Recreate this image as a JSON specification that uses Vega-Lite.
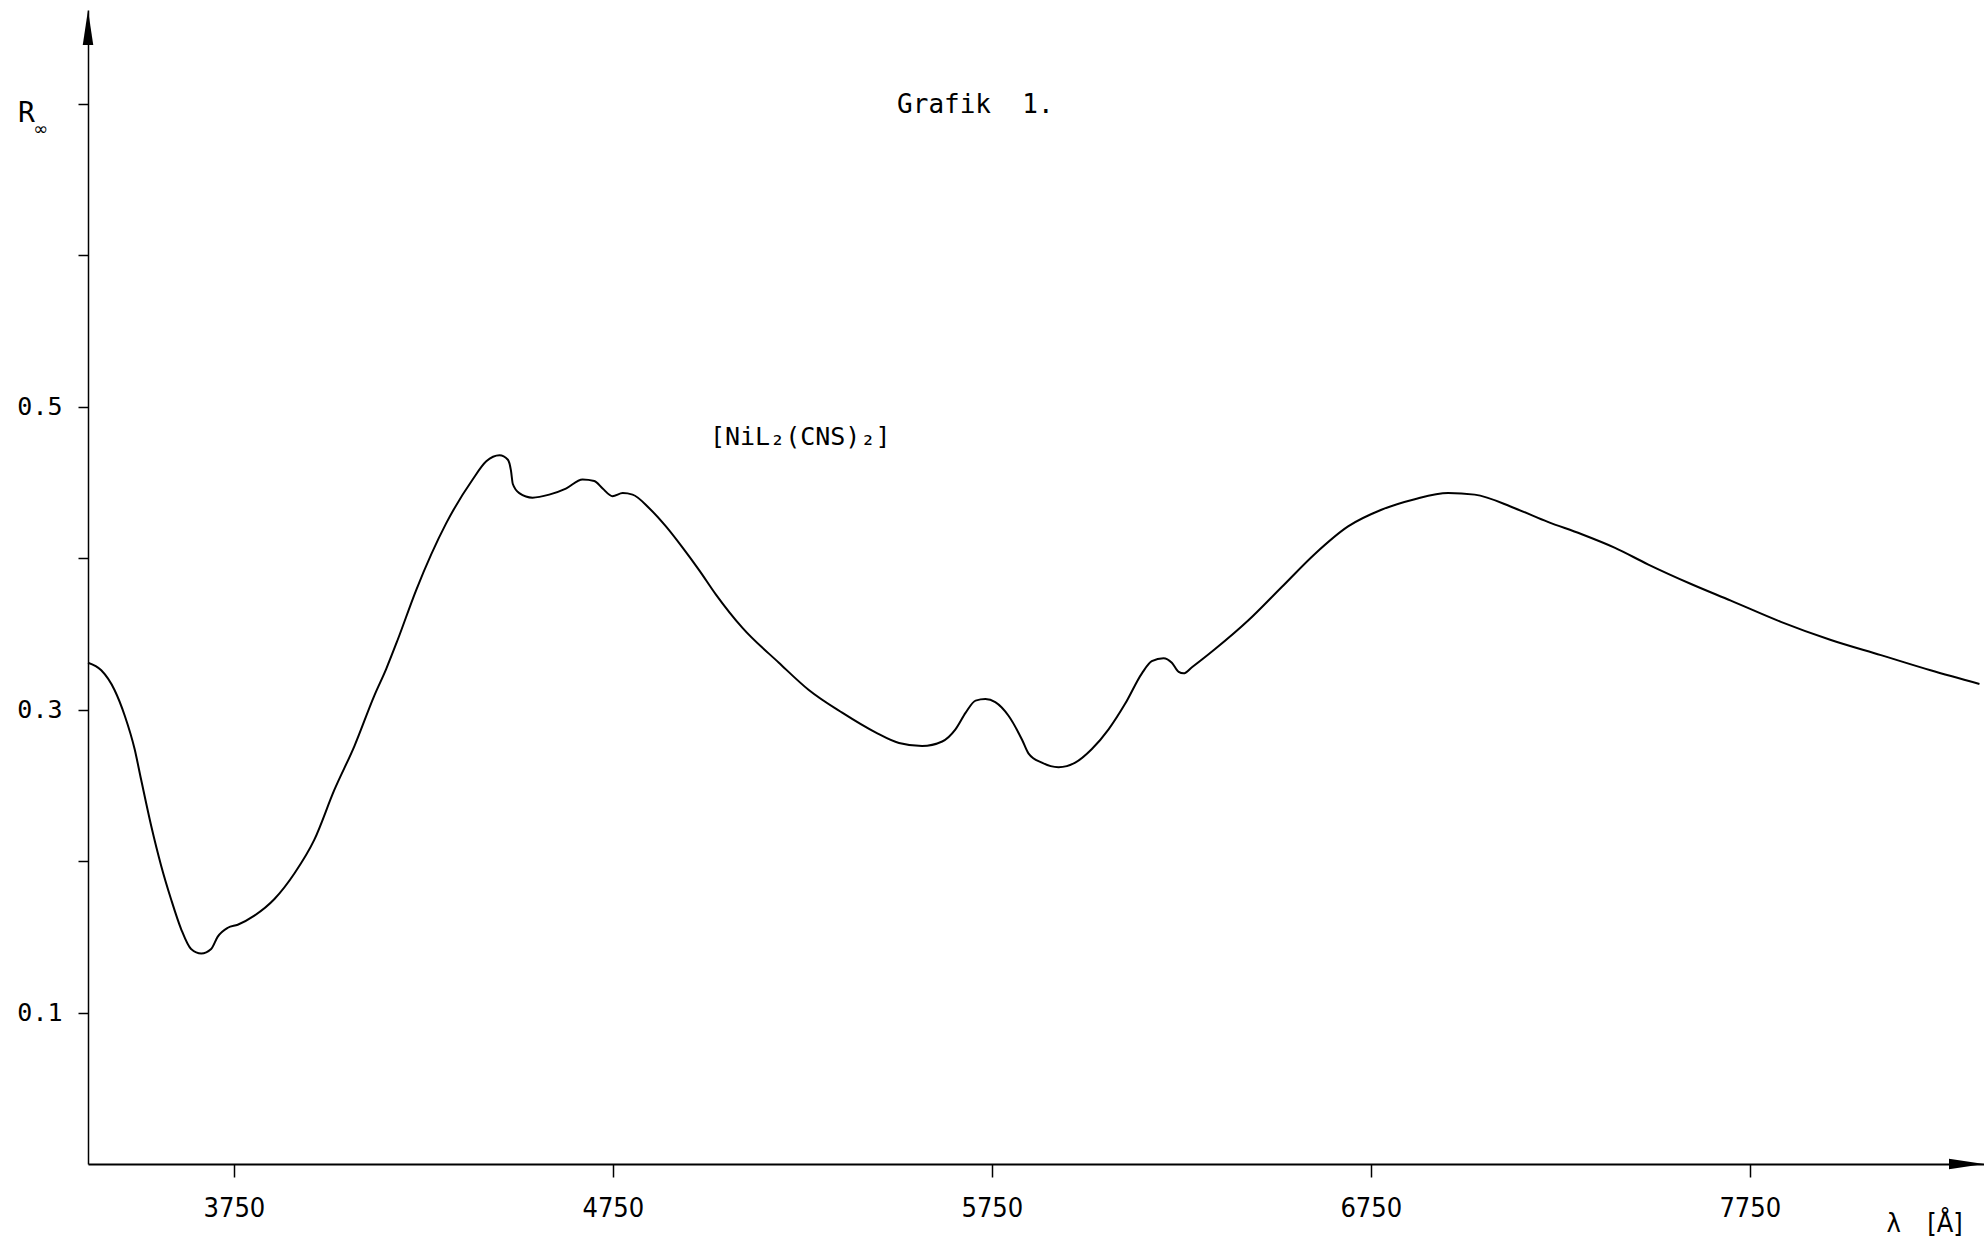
{
  "$schema": "https://vega.github.io/schema/vega-lite/v6.json",
  "width": 1896,
  "height": 1154,
  "autosize": {"type": "none"},
  "padding": {"left": 88, "top": 10, "right": 0, "bottom": 77},
  "background": "white",
  "config": {"view": {"stroke": null}},
  "layer": [
    {
      "data": {"values": [
        {"wavelength": 3365, "R": 0.331}, {"wavelength": 3400, "R": 0.326}, {"wavelength": 3435, "R": 0.313},
        {"wavelength": 3462, "R": 0.296}, {"wavelength": 3488, "R": 0.274}, {"wavelength": 3505, "R": 0.254},
        {"wavelength": 3532, "R": 0.223}, {"wavelength": 3558, "R": 0.197}, {"wavelength": 3584, "R": 0.175},
        {"wavelength": 3611, "R": 0.155}, {"wavelength": 3637, "R": 0.142}, {"wavelength": 3664, "R": 0.139},
        {"wavelength": 3690, "R": 0.142}, {"wavelength": 3707, "R": 0.150}, {"wavelength": 3734, "R": 0.156},
        {"wavelength": 3760, "R": 0.158}, {"wavelength": 3804, "R": 0.164}, {"wavelength": 3857, "R": 0.175},
        {"wavelength": 3910, "R": 0.192}, {"wavelength": 3962, "R": 0.214}, {"wavelength": 4015, "R": 0.247},
        {"wavelength": 4068, "R": 0.276}, {"wavelength": 4120, "R": 0.309}, {"wavelength": 4152, "R": 0.327},
        {"wavelength": 4182, "R": 0.346}, {"wavelength": 4231, "R": 0.379}, {"wavelength": 4310, "R": 0.423},
        {"wavelength": 4380, "R": 0.452}, {"wavelength": 4416, "R": 0.464}, {"wavelength": 4451, "R": 0.468},
        {"wavelength": 4473, "R": 0.465}, {"wavelength": 4481, "R": 0.458}, {"wavelength": 4486, "R": 0.449},
        {"wavelength": 4503, "R": 0.443}, {"wavelength": 4538, "R": 0.440}, {"wavelength": 4582, "R": 0.442},
        {"wavelength": 4626, "R": 0.446}, {"wavelength": 4670, "R": 0.452}, {"wavelength": 4701, "R": 0.451},
        {"wavelength": 4723, "R": 0.446}, {"wavelength": 4749, "R": 0.441}, {"wavelength": 4776, "R": 0.443},
        {"wavelength": 4802, "R": 0.442}, {"wavelength": 4846, "R": 0.433}, {"wavelength": 4890, "R": 0.421},
        {"wavelength": 4934, "R": 0.407}, {"wavelength": 4978, "R": 0.392}, {"wavelength": 5022, "R": 0.376},
        {"wavelength": 5092, "R": 0.354}, {"wavelength": 5188, "R": 0.331}, {"wavelength": 5267, "R": 0.313},
        {"wavelength": 5355, "R": 0.298}, {"wavelength": 5443, "R": 0.285}, {"wavelength": 5505, "R": 0.278},
        {"wavelength": 5566, "R": 0.276}, {"wavelength": 5619, "R": 0.279}, {"wavelength": 5654, "R": 0.287},
        {"wavelength": 5681, "R": 0.298}, {"wavelength": 5707, "R": 0.306}, {"wavelength": 5733, "R": 0.307},
        {"wavelength": 5759, "R": 0.305}, {"wavelength": 5794, "R": 0.296}, {"wavelength": 5830, "R": 0.280},
        {"wavelength": 5847, "R": 0.271}, {"wavelength": 5882, "R": 0.265}, {"wavelength": 5926, "R": 0.262},
        {"wavelength": 5970, "R": 0.265}, {"wavelength": 6014, "R": 0.274}, {"wavelength": 6058, "R": 0.287},
        {"wavelength": 6102, "R": 0.304}, {"wavelength": 6146, "R": 0.324}, {"wavelength": 6172, "R": 0.332},
        {"wavelength": 6203, "R": 0.334}, {"wavelength": 6225, "R": 0.331}, {"wavelength": 6243, "R": 0.325},
        {"wavelength": 6256, "R": 0.324}, {"wavelength": 6278, "R": 0.328}, {"wavelength": 6339, "R": 0.340},
        {"wavelength": 6427, "R": 0.359}, {"wavelength": 6515, "R": 0.381}, {"wavelength": 6603, "R": 0.403},
        {"wavelength": 6690, "R": 0.421}, {"wavelength": 6778, "R": 0.432}, {"wavelength": 6866, "R": 0.439},
        {"wavelength": 6954, "R": 0.443}, {"wavelength": 7024, "R": 0.442}, {"wavelength": 7130, "R": 0.433},
        {"wavelength": 7217, "R": 0.424}, {"wavelength": 7305, "R": 0.416}, {"wavelength": 7393, "R": 0.407},
        {"wavelength": 7481, "R": 0.396}, {"wavelength": 7595, "R": 0.383}, {"wavelength": 7700, "R": 0.372},
        {"wavelength": 7832, "R": 0.358}, {"wavelength": 7964, "R": 0.346}, {"wavelength": 8096, "R": 0.336},
        {"wavelength": 8227, "R": 0.326}, {"wavelength": 8356, "R": 0.317}
      ]},
      "mark": {"type": "line", "interpolate": "monotone", "color": "black", "strokeWidth": 2},
      "encoding": {
        "x": {
          "field": "wavelength", "type": "quantitative",
          "scale": {"domain": [3365, 8368], "nice": false, "zero": false},
          "axis": {
            "title": null, "values": [3750, 4750, 5750, 6750, 7750], "format": "d", "grid": false,
            "domainColor": "black", "domainWidth": 2, "tickColor": "black", "tickSize": 13, "tickWidth": 1.5,
            "labelFont": "DejaVu Sans Condensed, Liberation Sans, sans-serif", "labelFontSize": 27, "labelColor": "black",
            "labelPadding": 18, "labelFlush": false, "labelOverlap": false
          }
        },
        "y": {
          "field": "R", "type": "quantitative",
          "scale": {"domain": [0, 0.762], "nice": false, "zero": false},
          "axis": {
            "title": null, "values": [0.1, 0.2, 0.3, 0.4, 0.5, 0.6, 0.7], "grid": false,
            "labelExpr": "(datum.value == 0.1 || datum.value == 0.3 || datum.value == 0.5) ? format(datum.value, '.1f') : ''",
            "domainColor": "black", "domainWidth": 1.5, "tickColor": "black", "tickSize": 10, "tickWidth": 1.5,
            "labelFont": "DejaVu Sans Mono", "labelFontSize": 25, "labelColor": "black",
            "labelPadding": 16, "labelOverlap": false, "labelFlush": false
          }
        }
      }
    },
    {
      "data": {"values": [{}]},
      "mark": {"type": "point", "shape": "M0,0L0.3,2L-0.3,2Z", "filled": true, "color": "black", "size": 1225, "opacity": 1, "strokeWidth": 0},
      "encoding": {"x": {"datum": 3365}, "y": {"datum": 0.762}}
    },
    {
      "data": {"values": [{}]},
      "mark": {"type": "point", "shape": "M0,0L-2,-0.3L-2,0.3Z", "filled": true, "color": "black", "size": 1225, "opacity": 1, "strokeWidth": 0},
      "encoding": {"x": {"datum": 8368}, "y": {"datum": 0}}
    },
    {
      "data": {"values": [{}]},
      "mark": {"type": "text", "text": "Grafik\u00a0 1.", "font": "DejaVu Sans Mono", "fontSize": 26, "align": "left", "baseline": "alphabetic", "color": "black"},
      "encoding": {"x": {"datum": 5500}, "y": {"datum": 0.694}}
    },
    {
      "data": {"values": [{}]},
      "mark": {"type": "text", "text": "[NiL₂(CNS)₂]", "font": "DejaVu Sans Mono", "fontSize": 25, "align": "left", "baseline": "alphabetic", "color": "black"},
      "encoding": {"x": {"datum": 5006}, "y": {"datum": 0.475}}
    },
    {
      "data": {"values": [{}]},
      "mark": {"type": "text", "text": "R", "font": "DejaVu Sans Mono", "fontSize": 28, "align": "left", "baseline": "alphabetic", "color": "black"},
      "encoding": {"x": {"datum": 3180}, "y": {"datum": 0.688}}
    },
    {
      "data": {"values": [{}]},
      "mark": {"type": "text", "text": "∞", "font": "DejaVu Sans", "fontSize": 18, "align": "center", "baseline": "alphabetic", "color": "black"},
      "encoding": {"x": {"datum": 3240}, "y": {"datum": 0.6795}}
    },
    {
      "data": {"values": [{}]},
      "mark": {"type": "text", "text": "λ", "font": "DejaVu Sans Condensed, Liberation Sans, sans-serif", "fontSize": 27, "align": "center", "baseline": "alphabetic", "color": "black"},
      "encoding": {"x": {"datum": 8130}, "y": {"datum": -0.0446}}
    },
    {
      "data": {"values": [{}]},
      "mark": {"type": "text", "text": "[Å]", "font": "DejaVu Sans Condensed, Liberation Sans, sans-serif", "fontSize": 27, "align": "center", "baseline": "alphabetic", "color": "black"},
      "encoding": {"x": {"datum": 8265}, "y": {"datum": -0.0446}}
    }
  ]
}
